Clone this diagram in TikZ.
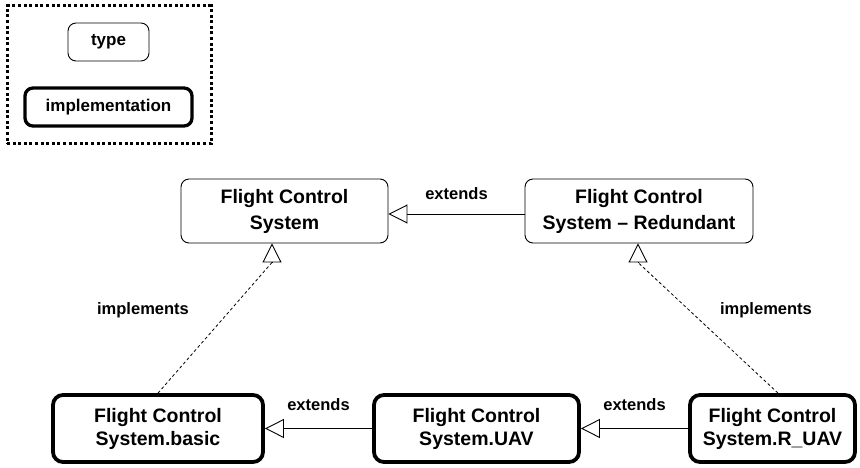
\documentclass[tikz,border=0pt]{standalone}
\usepackage{fontspec}
\setmainfont{Liberation Sans}
\usetikzlibrary{arrows.meta}
\begin{document}
\begin{tikzpicture}[x=1pt,y=-1pt,
  typebox/.style={draw, rounded corners=8pt, line width=0.9pt, align=center, inner sep=0pt,
    font=\fontsize{19.5}{26}\selectfont\bfseries},
  implbox/.style={draw, rounded corners=10pt, line width=3.8pt, align=center, inner sep=0pt,
    font=\fontsize{19.5}{23}\selectfont\bfseries},
  lbl/.style={font=\fontsize{16.5}{20}\selectfont\bfseries, inner sep=0pt},
  gen/.style={line width=0.9pt, -{Triangle[open, length=19pt, width=19pt, line width=0.9pt]}},
  real/.style={line width=0.8pt, dash pattern=on 3pt off 2.5pt}
]
\useasboundingbox (0,0) rectangle (860,468);
% legend
\node[draw, line width=3pt, dash pattern=on 3pt off 2.6pt, minimum width=204pt, minimum height=138pt, inner sep=0pt] (legend) at (109,75) {};
\node[typebox, minimum width=81pt, minimum height=38pt, font=\fontsize{17}{20}\selectfont\bfseries] (ltype) at (108.5,42) {type};
\node[implbox, line width=3.3pt, rounded corners=8pt, minimum width=167pt, minimum height=38pt, font=\fontsize{17}{20}\selectfont\bfseries] (limpl) at (108.5,107) {implementation};
% types
\node[typebox, minimum width=207pt, minimum height=64pt] (fcs) at (284.5,211) {Flight Control\\System};
\node[typebox, minimum width=228pt, minimum height=64pt] (fcsr) at (639,211) {Flight Control\\System -- Redundant};
% implementations
\node[implbox, minimum width=210pt, minimum height=67pt] (basic) at (158,428.5) {Flight Control\\System.basic};
\node[implbox, minimum width=205pt, minimum height=67pt] (uav) at (476.5,428.5) {Flight Control\\System.UAV};
\node[implbox, minimum width=165pt, minimum height=67pt] (ruav) at (772.5,428.5) {Flight Control\\System.R\_UAV};
% extends
\draw[gen] ([yshift=-3pt]fcsr.west) -- ([yshift=-3pt]fcs.east) node[lbl, midway, above=14pt] (e1) {extends};
\draw[gen] (uav.west) -- (basic.east) node[lbl, midway, above=17pt] (e2) {extends};
\draw[gen] (ruav.west) -- (uav.east) node[lbl, midway, above=17pt] (e3) {extends};
% implements
\coordinate (b1) at ([xshift=-12.5pt, yshift=-19pt]fcs.south);
\coordinate (b2) at ([xshift=-1pt, yshift=-19pt]fcsr.south);
\draw[real] (basic.north) -- (b1);
\draw[gen] (b1) -- ([xshift=-12.5pt]fcs.south);
\draw[real] ([xshift=5.5pt]ruav.north) -- (b2);
\draw[gen] (b2) -- ([xshift=-1pt]fcsr.south);
\node[lbl] (i1) at (143,310) {implements};
\node[lbl] (i2) at (766,310) {implements};
\end{tikzpicture}
\end{document}
